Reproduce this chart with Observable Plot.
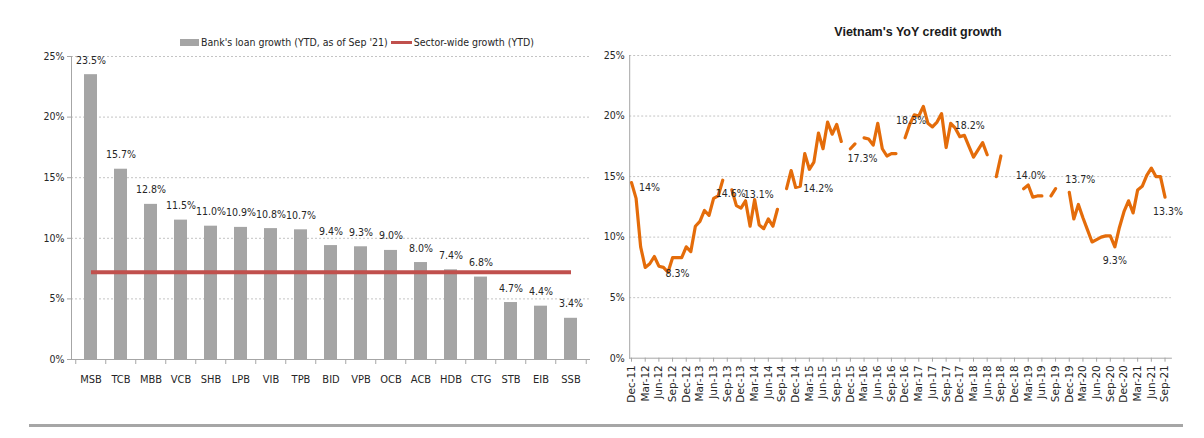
<!DOCTYPE html>
<html>
<head>
<meta charset="utf-8">
<script src="https://cdn.jsdelivr.net/npm/d3@7"></script>
<script src="https://cdn.jsdelivr.net/npm/@observablehq/plot@0.6"></script>
<style>
  html, body { margin: 0; padding: 0; background: #fff; }
  body { width: 1204px; height: 438px; overflow: hidden; position: relative;
         font-family: "Liberation Sans Narrow", "DejaVu Sans Condensed", "Liberation Sans", sans-serif; color: #262626; }
  #left { position: absolute; left: 0; top: 0; }
  #right { position: absolute; left: 600px; top: 0; }
  #legend { position: absolute; left: 180px; top: 35px; height: 14px; display: flex; align-items: center;
            font-size: 10.5px; white-space: nowrap; color: #262626; }
  #legend .sw-bar { width: 19px; height: 7px; background: #a5a5a5; margin-right: 2px; }
  #legend .sw-line { width: 21px; height: 3px; background: #c0504d; margin: 0 2px 0 3px; }
  #title { position: absolute; left: 818px; width: 200px; top: 25px; text-align: center;
           font-family: "Liberation Sans", Arial, sans-serif; font-weight: bold; font-size: 12.5px; color: #1a1a1a; }
  #footer { position: absolute; left: 29px; top: 424px; width: 1154px; height: 3px; background: #a6a6a6; }
</style>
</head>
<body>
<div id="left"></div>
<div id="right"></div>
<div id="legend"><div class="sw-bar"></div><span>Bank's loan growth (YTD, as of Sep '21)</span><div class="sw-line"></div><span>Sector-wide growth (YTD)</span></div>
<div id="title">Vietnam's YoY credit growth</div>
<div id="footer"></div>
<script>
// ---------- DATA ----------
const banks = ["MSB","TCB","MBB","VCB","SHB","LPB","VIB","TPB","BID","VPB","OCB","ACB","HDB","CTG","STB","EIB","SSB"];
const loanGrowth = [23.5,15.7,12.8,11.5,11.0,10.9,10.8,10.7,9.4,9.3,9.0,8.0,7.4,6.8,4.7,4.4,3.4];
const sectorGrowth = 7.2;
const percentTicks = [0,5,10,15,20,25];

// Monthly YoY credit growth, Dec-11 .. Sep-21 (null = no data / gap)
const creditGrowth = [
  14.5,13.2,9.2,7.5,7.8,8.4,7.6,7.5,7.1,8.3,8.3,8.3,        // Dec-11 .. Nov-12
  9.2,8.8,10.9,11.3,12.2,11.8,13.2,13.4,14.7,null,13.9,12.6,// Dec-12 .. Nov-13
  12.4,13.0,10.9,13.1,11.0,10.7,11.5,10.9,12.3,null,14.0,15.5,// Dec-13 .. Nov-14
  14.1,14.2,16.9,15.6,16.2,18.6,17.3,19.5,18.5,19.3,17.9,null,// Dec-14 .. Nov-15
  17.3,17.7,null,18.2,18.1,17.6,19.4,17.3,16.7,16.9,16.9,null,// Dec-15 .. Nov-16
  18.2,19.3,20.1,20.0,20.8,19.4,19.1,19.5,20.2,17.4,19.4,19.0,// Dec-16 .. Nov-17
  18.3,18.4,17.5,16.6,17.2,17.8,16.8,null,15.0,16.7,null,null,// Dec-17 .. Nov-18
  null,null,14.0,14.3,13.3,13.4,13.4,null,13.4,14.0,null,null,// Dec-18 .. Nov-19
  13.7,11.5,12.7,11.6,10.6,9.6,9.8,10.0,10.1,10.1,9.2,10.8,   // Dec-19 .. Nov-20
  12.1,13.0,12.0,13.9,14.2,15.1,15.7,15.0,15.0,13.3           // Dec-20 .. Sep-21
];
const monthTickLabels = ["Dec-11","Mar-12","Jun-12","Sep-12","Dec-12","Mar-13","Jun-13","Sep-13","Dec-13","Mar-14",
  "Jun-14","Sep-14","Dec-14","Mar-15","Jun-15","Sep-15","Dec-15","Mar-16","Jun-16","Sep-16",
  "Dec-16","Mar-17","Jun-17","Sep-17","Dec-17","Mar-18","Jun-18","Sep-18","Dec-18","Mar-19",
  "Jun-19","Sep-19","Dec-19","Mar-20","Jun-20","Sep-20","Dec-20","Mar-21","Jun-21","Sep-21"];
const creditLabelMonth = [0, 9, 22, 27, 37, 48, 60, 72, 86, 96, 106, 117];
const creditLabelText  = ["14%","8.3%","14.6%","13.1%","14.2%","17.3%","18.3%","18.2%","14.0%","13.7%","9.3%","13.3%"];

// ---------- LEFT CHART ----------
const NARROW = "'Liberation Sans Narrow', 'DejaVu Sans Condensed', 'Liberation Sans', sans-serif";
const TEXT = "#262626";
const AXIS = "#a6a6a6";
const GRID = "#c4c4c4";

const bankData = banks.map((b, i) => ({bank: b, growth: loanGrowth[i]}));
const L = {width: 600, height: 400, left: 71, right: 11, top: 56, bottom: 41};
const bandStep = (L.width - L.left - L.right) / banks.length;

const leftPlot = Plot.plot({
  width: L.width, height: L.height,
  marginLeft: L.left, marginRight: L.right, marginTop: L.top, marginBottom: L.bottom,
  style: {background: "transparent", fontFamily: NARROW, fontSize: "11px", color: TEXT, overflow: "visible"},
  x: {type: "band", domain: banks, paddingInner: 0.58, paddingOuter: 0.29, label: null},
  y: {domain: [0, 25], label: null},
  marks: [
    Plot.gridY(percentTicks.slice(1), {stroke: GRID, strokeOpacity: 1, strokeDasharray: "2,2"}),
    Plot.barY(bankData, {x: "bank", y: "growth", fill: "#a5a5a5"}),
    Plot.line([{bank: banks[0], v: sectorGrowth}, {bank: banks[banks.length - 1], v: sectorGrowth}],
      {x: "bank", y: "v", stroke: "#c0504d", strokeWidth: 4, strokeLinecap: "butt"}),
    Plot.text(bankData, {x: "bank", y: "growth", text: d => d.growth.toFixed(1) + "%",
      lineAnchor: "bottom", dy: -11, fontSize: 10.5, fill: TEXT}),
    Plot.frame({anchor: "left", stroke: AXIS}),
    Plot.frame({anchor: "bottom", stroke: AXIS}),
    Plot.ruleX(banks, {x: d => d, y1: 0, y2: 0, insetBottom: -5, dx: -bandStep / 2, stroke: AXIS}),
    Plot.ruleX([banks[banks.length - 1]], {x: d => d, y1: 0, y2: 0, insetBottom: -5, dx: bandStep / 2, stroke: AXIS}),
    Plot.axisY(percentTicks, {tickFormat: d => d + "%", tickSize: 4, tickPadding: 3, stroke: AXIS, fill: TEXT, fontSize: 10.5}),
    Plot.axisX({tickSize: 0, tickPadding: 16, fill: TEXT, fontSize: 11})
  ]
});
document.getElementById("left").appendChild(leftPlot);

// ---------- RIGHT CHART ----------
const creditData = creditGrowth.map((v, i) => ({i, v}));
const monthTicks = monthTickLabels.map((_, k) => k * 3);
const R = {width: 604, height: 438, left: 29.2, right: 33.1, top: 55, bottom: 80.3};

// label nudges (pixels) relative to the labelled point
const labelNudge = [[18,5],[5,16],[-1,4],[4,-5],[18,2],[12,10],[6,-17],[10,-11],[7,-13],[11,-13],[0,14],[3,14]];
const labelMarks = creditLabelMonth.map((m, k) => {
  const v = creditGrowth[m];
  return Plot.text([{i: m, v, t: creditLabelText[k]}], {
    x: "i", y: "v", text: "t", dx: labelNudge[k][0], dy: labelNudge[k][1],
    fontSize: 10.5, fill: TEXT, fontFamily: NARROW
  });
});

const rightPlot = Plot.plot({
  width: R.width, height: R.height,
  marginLeft: R.left, marginRight: R.right, marginTop: R.top, marginBottom: R.bottom,
  style: {background: "transparent", fontFamily: NARROW, fontSize: "11px", color: TEXT, overflow: "visible"},
  x: {domain: [-0.4, 118.4], label: null},
  y: {domain: [0, 25], label: null},
  marks: [
    Plot.gridY(percentTicks.slice(1), {stroke: GRID, strokeOpacity: 1, strokeDasharray: "2,2"}),
    Plot.frame({anchor: "left", stroke: AXIS}),
    Plot.frame({anchor: "bottom", stroke: AXIS}),
    Plot.lineY(creditData, {x: "i", y: "v", stroke: "#e46c0a", strokeWidth: 3.2}),
    ...labelMarks,
    Plot.axisY(percentTicks, {tickFormat: d => d + "%", tickSize: 0, tickPadding: 5, fill: TEXT, fontSize: 10.5}),
    Plot.axisX(monthTicks, {tickFormat: d => monthTickLabels[d / 3], tickRotate: -90, tickSize: 4, tickPadding: 3,
      stroke: AXIS, fill: TEXT, fontSize: 10.5, fontFamily: "'DejaVu Sans', Verdana, sans-serif"})
  ]
});
document.getElementById("right").appendChild(rightPlot);
</script>
</body>
</html>
